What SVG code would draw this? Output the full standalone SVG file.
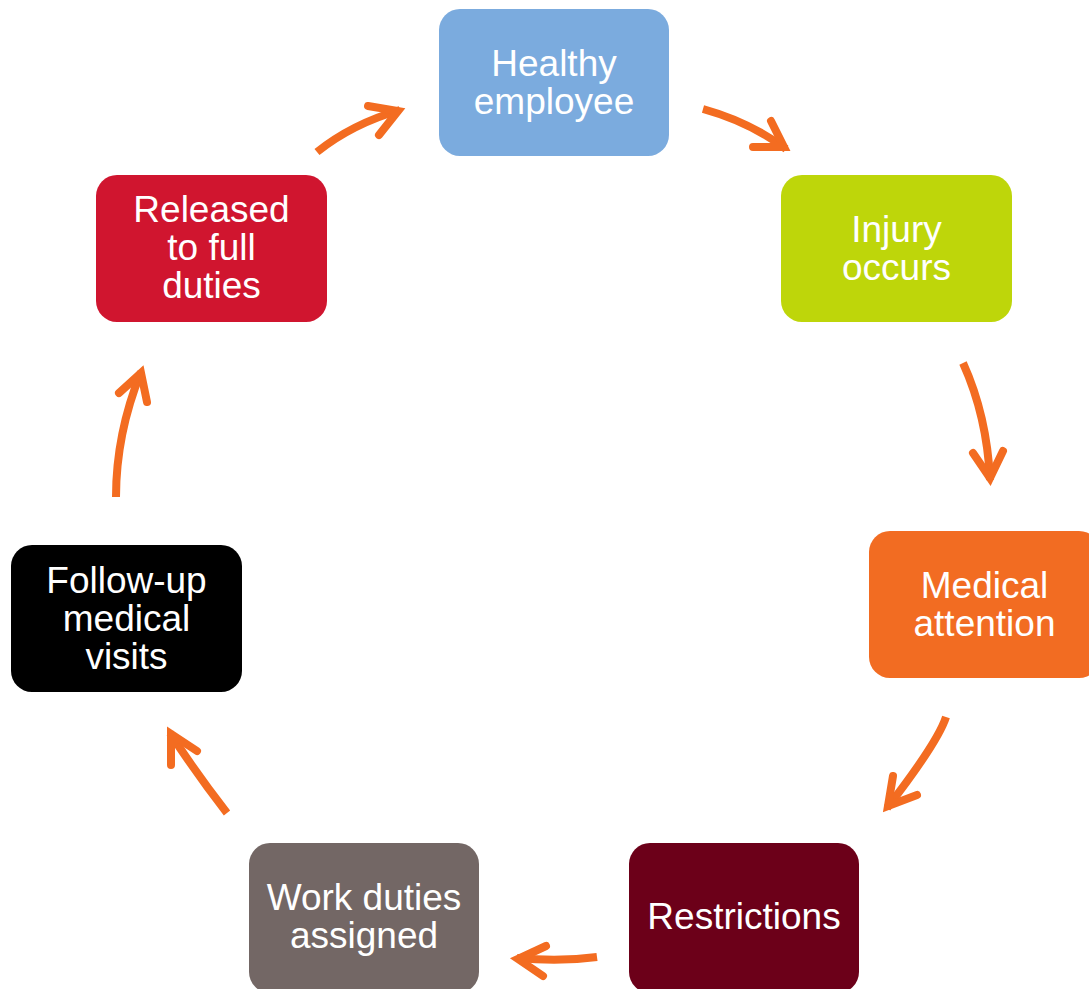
<svg xmlns="http://www.w3.org/2000/svg" width="1089" height="989" viewBox="0 0 1089 989">
<style>
.box{stroke:none}
.lbl{font-family:"Liberation Sans",Arial,sans-serif;font-size:37px;fill:#ffffff;text-anchor:middle}
.shaft{fill:none;stroke:#F36C21;stroke-width:8;stroke-linecap:butt}
.head{fill:none;stroke:#F36C21;stroke-width:8;stroke-linecap:round;stroke-linejoin:miter;stroke-miterlimit:10}
</style>
<rect width="1089" height="989" fill="#ffffff"/>
<g id="healthy">
<rect class="box" x="439" y="9" width="230" height="147" rx="21" fill="#7BABDE"/>
<text class="lbl" x="554" y="76">Healthy</text>
<text class="lbl" x="554" y="114">employee</text>
</g>
<g id="injury">
<rect class="box" x="781" y="175" width="231" height="147" rx="21" fill="#BED60A"/>
<text class="lbl" x="896.5" y="242">Injury</text>
<text class="lbl" x="896.5" y="280">occurs</text>
</g>
<g id="medical">
<rect class="box" x="869" y="531" width="231" height="147" rx="21" fill="#F26C22"/>
<text class="lbl" x="984.5" y="598">Medical</text>
<text class="lbl" x="984.5" y="636">attention</text>
</g>
<g id="restrictions">
<rect class="box" x="629" y="843" width="230" height="150" rx="21" fill="#6C0019"/>
<text class="lbl" x="744" y="929">Restrictions</text>
</g>
<g id="work">
<rect class="box" x="249" y="843" width="230" height="150" rx="21" fill="#736765"/>
<text class="lbl" x="364" y="910">Work duties</text>
<text class="lbl" x="364" y="948">assigned</text>
</g>
<g id="followup">
<rect class="box" x="11" y="545" width="231" height="147" rx="21" fill="#000000"/>
<text class="lbl" x="126.5" y="593">Follow-up</text>
<text class="lbl" x="126.5" y="631">medical</text>
<text class="lbl" x="126.5" y="669">visits</text>
</g>
<g id="released">
<rect class="box" x="96" y="175" width="231" height="147" rx="21" fill="#D0152F"/>
<text class="lbl" x="211.5" y="222">Released</text>
<text class="lbl" x="211.5" y="260">to full</text>
<text class="lbl" x="211.5" y="298">duties</text>
</g>
<g id="connectors">
<path class="shaft" d="M317,152 Q352,124 400,110"/>
<polyline class="head" points="368,106 398,111 379,135"/>
<path class="shaft" d="M703,109 Q750,122 786,149"/>
<polyline class="head" points="753,147 784,147 771,121"/>
<path class="shaft" d="M963,363 Q987,416 990,480"/>
<polyline class="head" points="973,453 990,478 1003,451"/>
<path class="shaft" d="M946,717 Q938,742 887,808"/>
<polyline class="head" points="893,776 888,806 917,795"/>
<path class="shaft" d="M597,957 Q560,962 517,958"/>
<polyline class="head" points="546,946 518,959 543,976"/>
<path class="shaft" d="M227,813 Q196,773 170,733"/>
<polyline class="head" points="171,765 171,734 197,751"/>
<path class="shaft" d="M116,497 Q116,434 141,372"/>
<polyline class="head" points="119,393 141,373 147,402"/>
</g>
</svg>
